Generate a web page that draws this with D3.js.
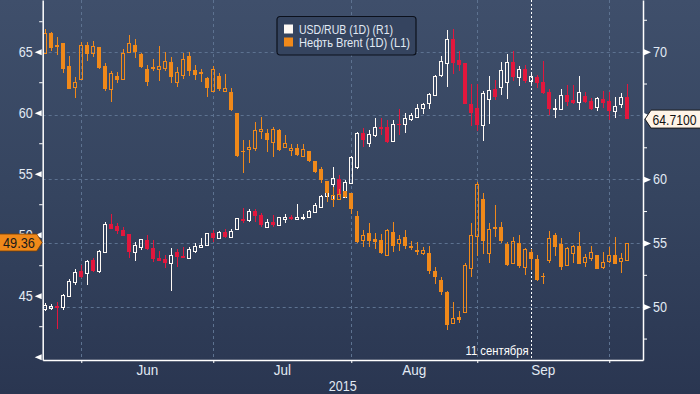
<!DOCTYPE html>
<html>
<head>
<meta charset="utf-8">
<script src="https://cdn.jsdelivr.net/npm/d3@7"></script>
<style>
body {margin:0; background:#2c3853;}
svg {display:block; font-family:"Liberation Sans",Arial,sans-serif;}
</style>
</head>
<body>
<svg id="chart" width="700" height="394"></svg>
<script>
// USD/RUB daily candles (right axis)
var rubOpen  = [49.82,49.92,50.05,50.00,50.84,51.96,52.80,52.62,53.66,52.80,54.31,56.49,56.33,56.02,55.70,54.27,54.71,55.23,54.63,53.82,
                53.72,53.45,54.29,53.98,53.80,54.39,54.71,54.84,55.76,55.37,55.88,55.49,56.07,56.88,56.80,57.53,57.19,56.23,56.64,56.43,
                56.90,57.01,56.90,56.95,57.01,57.45,57.84,58.68,59.62,59.99,58.58,59.73,60.98,63.60,62.82,63.47,64.07,64.12,63.02,64.33,
                64.33,64.70,64.90,65.56,65.95,66.58,68.17,69.09,71.00,69.35,69.09,65.90,65.61,64.25,66.31,67.05,67.21,67.60,69.19,68.04,
                68.64,67.73,67.99,67.62,66.84,65.48,65.53,66.60,66.21,66.08,66.53,66.13,65.64,66.29,66.13,65.37,65.90,66.42];
var rubHigh  = [50.27,50.19,50.35,51.00,52.15,52.98,53.25,53.66,53.80,54.45,56.67,57.27,56.54,56.22,55.70,55.05,55.29,55.62,55.23,54.37,
                54.06,54.58,54.50,54.66,54.71,55.02,55.37,55.76,56.02,55.96,56.07,56.09,56.98,57.72,57.66,57.64,57.32,56.85,57.17,57.06,
                57.25,57.22,58.06,57.27,57.58,58.11,58.76,59.70,60.93,60.33,59.93,61.82,63.72,63.99,63.86,64.78,64.78,64.64,64.64,65.51,
                65.17,65.17,65.90,65.98,66.78,68.17,69.66,71.70,71.78,70.06,69.09,67.47,67.47,66.94,68.09,67.78,69.22,69.80,70.06,68.88,
                68.96,68.31,68.17,69.27,67.05,66.29,67.05,67.39,67.39,68.09,66.82,66.34,66.42,66.94,66.84,66.47,66.74,67.47];
var rubLow   = [49.69,49.74,48.23,49.74,50.79,51.70,52.23,51.70,52.75,52.67,54.19,56.07,55.70,55.57,53.84,53.61,54.45,54.45,53.53,53.56,
                53.06,51.26,53.14,53.82,53.72,54.19,54.71,54.76,55.10,55.31,55.41,55.41,56.02,56.54,56.67,56.67,56.27,56.15,56.27,56.41,
                56.54,56.80,56.80,56.80,56.93,57.32,57.80,58.60,58.37,58.58,58.58,59.62,60.78,62.55,62.55,63.33,63.47,62.86,62.94,63.47,
                63.60,64.59,64.86,65.11,65.48,66.53,68.00,67.26,68.25,68.49,65.90,64.17,63.80,63.02,64.33,66.21,66.60,66.31,67.73,67.33,
                67.52,67.39,67.13,66.68,65.03,64.78,65.43,65.74,65.90,65.43,65.95,65.43,65.37,65.56,64.64,64.78,65.56,64.71];
var rubClose = [50.13,50.08,50.03,50.89,52.02,52.75,52.31,53.58,52.82,54.37,56.49,56.12,55.96,55.57,54.31,54.84,55.29,54.53,53.74,53.61,
                53.45,54.03,53.92,53.84,54.50,54.76,54.84,55.76,55.37,55.88,55.49,55.96,56.93,56.72,57.53,57.14,56.41,56.64,56.43,57.01,
                57.06,56.95,57.06,57.06,57.53,57.98,58.68,59.55,60.07,58.76,59.80,61.72,63.65,63.07,63.55,64.07,64.02,62.94,64.31,64.28,
                64.78,65.04,65.56,65.87,66.68,68.09,69.29,71.00,69.09,68.96,65.90,65.22,64.25,66.78,67.00,66.47,68.56,69.19,67.99,68.64,
                67.70,68.09,67.57,66.78,65.48,65.61,66.60,66.08,66.00,66.84,66.08,65.48,66.34,65.95,65.37,65.74,66.42,64.71];

// Brent daily candles (left axis)
var brentOpen  = [64.87,66.56,65.55,65.69,63.83,62.13,62.79,65.52,64.87,65.36,63.83,61.97,62.98,62.74,65.00,65.55,64.81,63.58,63.72,63.56,
                  63.69,64.16,62.49,63.12,64.62,63.50,63.34,62.85,61.75,63.01,61.81,61.67,59.95,56.89,57.00,57.08,58.48,58.31,57.62,58.58,
                  57.21,56.94,57.11,56.48,56.86,56.04,55.36,54.43,52.93,52.90,53.58,53.39,51.53,49.57,50.16,49.67,49.57,48.34,50.22,49.30,
                  49.79,49.07,48.75,48.48,48.48,47.03,46.29,45.28,42.74,43.28,43.69,47.30,49.92,52.93,48.53,50.63,50.61,49.26,47.71,49.32,
                  47.38,48.58,47.98,46.62,47.93,49.98,49.24,47.52,48.48,49.07,47.79,48.12,48.34,47.38,47.85,48.34,47.87,47.93];
var brentHigh  = [66.83,66.62,66.18,65.69,64.65,62.93,65.80,65.80,65.85,65.36,64.05,63.39,63.34,65.19,66.40,66.01,64.92,63.88,64.38,65.47,
                  64.98,64.54,63.72,64.87,65.00,63.88,63.56,62.90,63.83,63.28,63.17,62.02,59.95,57.76,57.76,59.27,59.67,58.66,58.85,58.66,
                  58.17,57.41,57.46,57.44,56.86,56.04,55.57,54.43,53.94,53.77,53.60,53.39,51.94,50.39,50.98,50.12,50.03,50.49,51.04,49.98,
                  50.39,49.48,49.38,49.02,49.07,47.33,46.51,45.38,44.46,43.75,47.68,50.98,54.32,53.44,50.98,52.43,51.04,49.40,49.84,49.98,
                  48.88,48.83,48.34,46.84,50.30,50.16,49.71,49.02,49.15,50.22,48.42,49.07,48.34,48.58,49.02,49.79,48.53,49.36];
var brentLow   = [64.80,65.09,64.73,63.28,61.92,61.23,62.68,64.24,64.59,63.56,61.81,60.90,62.46,62.74,64.95,64.51,63.69,62.19,63.42,62.60,
                  63.42,62.41,62.11,62.79,63.01,62.71,62.54,61.31,61.72,61.81,61.78,60.11,56.40,55.09,55.85,56.89,57.82,56.80,56.39,56.89,
                  57.08,56.45,56.43,56.35,55.94,55.03,54.21,52.71,52.30,52.82,53.05,51.70,49.30,49.02,49.02,48.83,48.39,48.25,48.56,48.66,
                  48.83,48.75,48.34,48.31,46.78,45.94,45.06,42.19,42.66,42.74,43.69,46.56,48.25,48.42,47.71,49.84,49.30,47.44,47.60,47.30,
                  46.70,47.11,46.21,45.96,47.71,48.25,47.11,47.44,47.71,47.62,47.38,47.85,47.21,47.16,47.66,47.62,46.89,47.93];
var brentClose = [66.51,65.33,65.41,63.58,61.97,62.52,65.52,64.84,65.44,63.66,61.92,63.23,62.65,64.87,65.69,65.00,63.75,62.54,63.61,63.80,
                  64.21,62.95,63.34,64.38,63.45,63.12,63.20,62.00,63.56,61.97,62.00,60.22,56.48,56.81,57.19,58.58,58.64,57.76,58.64,56.94,
                  57.49,57.11,56.56,57.00,56.07,55.16,54.48,53.39,53.25,53.34,53.12,52.13,49.38,49.95,49.51,49.43,48.48,50.39,49.10,49.62,
                  49.10,48.94,48.58,48.75,47.03,46.53,45.30,42.60,43.15,43.01,47.52,49.98,54.13,49.48,50.44,50.47,49.51,47.52,49.48,47.44,
                  48.83,48.03,46.29,46.58,49.71,49.02,47.38,48.94,49.07,47.62,48.15,48.58,47.21,47.79,48.34,47.62,48.07,49.36];

// axis ticks and labels
var leftMajor   = [40, 45, 50, 55, 60, 65];
var leftText    = [45, 50, 55, 60, 65];        // 40 has a marker only
var leftMinor   = [42.5, 47.5, 52.5, 57.5, 62.5, 67.5];
var rightMajor  = [50, 55, 60, 65, 70];
var rightText   = [50, 55, 60, 70];            // 65 sits under the last-value flag
var rightMinor  = [47.5, 52.5, 57.5, 62.5, 67.5, 72.5];
var monthStart  = [6, 28, 51, 72, 94];         // candle index of first trading day
var monthLabel  = ["Jun", "Jul", "Aug", "Sep"];
var yearLabel   = "2015";
var markerIdx   = 81;
var markerText  = "11 сентября";
var legendText  = ["USD/RUB (1D) (R1)", "Нефть Brent (1D) (L1)"];
var legendWidth = [94, 111];

var W = 700, H = 394;
var plotL = 42.7, plotR = 643, plotB = 360;
var white = "#fffaf5", red = "#e2173d", orange = "#f0891a", txt = "#e2eaf4", grid = "#5d7290";
var squeezeK = 0.84;

function squeeze(sel, k) {
  sel.each(function() {
    var w = this.getComputedTextLength();
    if (w > 0) d3.select(this).attr("textLength", w * k).attr("lengthAdjust", "spacingAndGlyphs");
  });
}

var svg = d3.select("#chart");
var defs = svg.append("defs");
var bg = defs.append("linearGradient").attr("id", "bg").attr("x1", 0).attr("y1", 0).attr("x2", 0).attr("y2", 1);
bg.append("stop").attr("offset", "0%").attr("stop-color", "#3f4f6b");
bg.append("stop").attr("offset", "50%").attr("stop-color", "#35445f");
bg.append("stop").attr("offset", "100%").attr("stop-color", "#2a3651");
svg.append("rect").attr("width", W).attr("height", H).attr("fill", "url(#bg)");

var x  = d3.scaleLinear().domain([-0.43, 99.62]).range([plotL, plotR]);
var yL = d3.scaleLinear().domain([39.73, 69.24]).range([plotB, 0]);
var yR = d3.scaleLinear().domain([45.82, 74.05]).range([plotB, 0]);

// dashed grid
var gg = svg.append("g").attr("stroke", grid).attr("stroke-dasharray", "3,3").attr("stroke-width", 1);
gg.selectAll(".h").data(rightMajor).enter().append("line")
  .attr("x1", plotL).attr("x2", plotR)
  .attr("y1", function(d){ return Math.round(yR(d)) + 0.5; })
  .attr("y2", function(d){ return Math.round(yR(d)) + 0.5; });
gg.selectAll(".v").data(monthStart).enter().append("line")
  .attr("y1", 0).attr("y2", plotB)
  .attr("x1", function(d){ return Math.round(x(d)) + 0.5; })
  .attr("x2", function(d){ return Math.round(x(d)) + 0.5; });

// 11 Sep marker
var mx = Math.round(x(markerIdx)) + 0.5;
svg.append("line").attr("x1", mx).attr("x2", mx).attr("y1", 0).attr("y2", plotB)
  .attr("stroke", "#ffffff").attr("stroke-width", 1).attr("stroke-dasharray", "2,2");
svg.append("text").attr("x", mx - 3).attr("y", 355).attr("text-anchor", "end")
  .attr("font-size", 12.5).attr("fill", "#ffffff").text(markerText)
  .attr("textLength", 63).attr("lengthAdjust", "spacingAndGlyphs");

function candles(O, Hi, Lo, C, y, upCol, downCol) {
  var g = svg.append("g").attr("shape-rendering", "crispEdges");
  var c = g.selectAll("g").data(d3.range(O.length)).enter().append("g");
  c.each(function(i) {
    var s = d3.select(this);
    var up = C[i] >= O[i];
    var col = up ? upCol : downCol;
    var r = Math.round(x(i));
    var yt = y(Math.max(O[i], C[i])), yb = y(Math.min(O[i], C[i]));
    s.append("line").attr("x1", r + 0.5).attr("x2", r + 0.5)
      .attr("y1", y(Hi[i])).attr("y2", yt).attr("stroke", col);
    s.append("line").attr("x1", r + 0.5).attr("x2", r + 0.5)
      .attr("y1", yb).attr("y2", y(Lo[i])).attr("stroke", col);
    if (up) {
      s.append("rect").attr("x", r - 1.5).attr("width", 3)
        .attr("y", Math.round(yt) + 0.5).attr("height", Math.max(1, Math.round(yb) - Math.round(yt)))
        .attr("fill", "none").attr("stroke", col).attr("stroke-width", 1);
    } else {
      s.append("rect").attr("x", r - 2).attr("width", 4)
        .attr("y", yt).attr("height", Math.max(1.5, yb - yt)).attr("fill", col);
    }
  });
}
candles(rubOpen, rubHigh, rubLow, rubClose, yR, white, red);
candles(brentOpen, brentHigh, brentLow, brentClose, yL, orange, orange);

// axes
function tri(dir) {
  return dir < 0 ? "M-1,-3L-1,3L-8,0Z" : "M1,-3L1,3L8,0Z";
}
var la = svg.append("g").attr("transform", "translate(" + plotL + ",0)")
  .call(d3.axisLeft(yL).tickValues(leftMajor).tickSize(0).tickSizeOuter(0).tickPadding(10)
    .tickFormat(function(d){ return leftText.indexOf(d) >= 0 ? d : ""; }));
la.select(".domain").attr("stroke", "#ffffff").attr("stroke-width", 1.5);
la.selectAll(".tick").append("path").attr("d", tri(-1)).attr("fill", "#ffffff");
la.selectAll("text").attr("font-size", 15).attr("fill", txt).attr("font-family", null).call(squeeze, squeezeK);
svg.append("g").attr("transform", "translate(" + plotL + ",0)")
  .call(d3.axisLeft(yL).tickValues(leftMinor).tickSize(3.5).tickFormat(""))
  .call(function(g){ g.select(".domain").remove(); g.selectAll("line").attr("stroke", "#ffffff"); });

var ra = svg.append("g").attr("transform", "translate(" + plotR + ",0)")
  .call(d3.axisRight(yR).tickValues(rightMajor).tickSize(0).tickSizeOuter(0).tickPadding(10)
    .tickFormat(function(d){ return rightText.indexOf(d) >= 0 ? d : ""; }));
ra.select(".domain").attr("stroke", "#ffffff").attr("stroke-width", 1.5);
ra.selectAll(".tick").append("path").attr("d", tri(1)).attr("fill", "#ffffff");
ra.selectAll("text").attr("font-size", 15).attr("fill", txt).attr("font-family", null).call(squeeze, squeezeK);
svg.append("g").attr("transform", "translate(" + plotR + ",0)")
  .call(d3.axisRight(yR).tickValues(rightMinor).tickSize(4).tickFormat(""))
  .call(function(g){ g.select(".domain").remove(); g.selectAll("line").attr("stroke", "#ffffff"); });

var ba = svg.append("g").attr("transform", "translate(0," + plotB + ")")
  .call(d3.axisBottom(x).tickValues(monthStart).tickSize(3).tickSizeOuter(0).tickFormat(""));
ba.select(".domain").attr("stroke", "#ffffff").attr("stroke-width", 1.5);
ba.selectAll("line").attr("stroke", "#ffffff");

svg.selectAll(".mon").data(monthLabel).enter().append("text")
  .attr("x", function(d, i){ return x((monthStart[i] + monthStart[i + 1]) / 2); })
  .attr("y", 375).attr("text-anchor", "middle").attr("font-size", 15).attr("fill", txt)
  .text(function(d){ return d; }).call(squeeze, 0.9);
svg.append("text").attr("x", (plotL + plotR) / 2).attr("y", 391).attr("text-anchor", "middle")
  .attr("font-size", 15).attr("fill", txt).text(yearLabel).call(squeeze, squeezeK);

// last-value flags
var last = rubClose.length - 1;
var ry = yR(rubClose[last]);
svg.append("path")
  .attr("d", "M" + (plotR + 2) + "," + ry + "L" + (plotR + 8) + "," + (ry - 9) + "L701," + (ry - 9) + "L701," + (ry + 9) + "L" + (plotR + 8) + "," + (ry + 9) + "Z")
  .attr("fill", "#fff4e8").attr("stroke", "#1b1b1b").attr("stroke-width", 1);
svg.append("text").attr("x", plotR + 9.5).attr("y", ry + 5.5).attr("font-size", 14.5).attr("fill", "#111")
  .text(rubClose[last].toFixed(4)).call(squeeze, 0.84);

var by = yL(brentClose[last]);
svg.append("path")
  .attr("d", "M-1," + (by - 8.5) + "L" + (plotL - 6) + "," + (by - 8.5) + "L" + (plotL - 0.5) + "," + by + "L" + (plotL - 6) + "," + (by + 8.5) + "L-1," + (by + 8.5) + "Z")
  .attr("fill", orange).attr("stroke", "#7a3f00").attr("stroke-width", 0.8);
svg.append("text").attr("x", 3).attr("y", by + 5.5).attr("font-size", 15).attr("fill", "#1a1a1a")
  .text(brentClose[last].toFixed(2)).call(squeeze, 0.85);

// legend
var lg = svg.append("g").attr("transform", "translate(277,16.5)");
lg.append("rect").attr("width", 139).attr("height", 38.5).attr("rx", 3)
  .attr("fill", "#35445f").attr("stroke", "#0c111c").attr("stroke-width", 1.2);
lg.selectAll(".sw").data(legendText).enter().append("rect")
  .attr("x", 7).attr("y", function(d, i){ return 8 + i * 13; })
  .attr("width", 9).attr("height", 9)
  .attr("fill", function(d, i){ return i === 0 ? white : orange; });
lg.selectAll(".lt").data(legendText).enter().append("text")
  .attr("x", 22).attr("y", function(d, i){ return 17.5 + i * 13; })
  .attr("font-size", 12).attr("fill", txt)
  .attr("textLength", function(d, i){ return legendWidth[i]; }).attr("lengthAdjust", "spacingAndGlyphs")
  .text(function(d){ return d; });
</script>
</body>
</html>
